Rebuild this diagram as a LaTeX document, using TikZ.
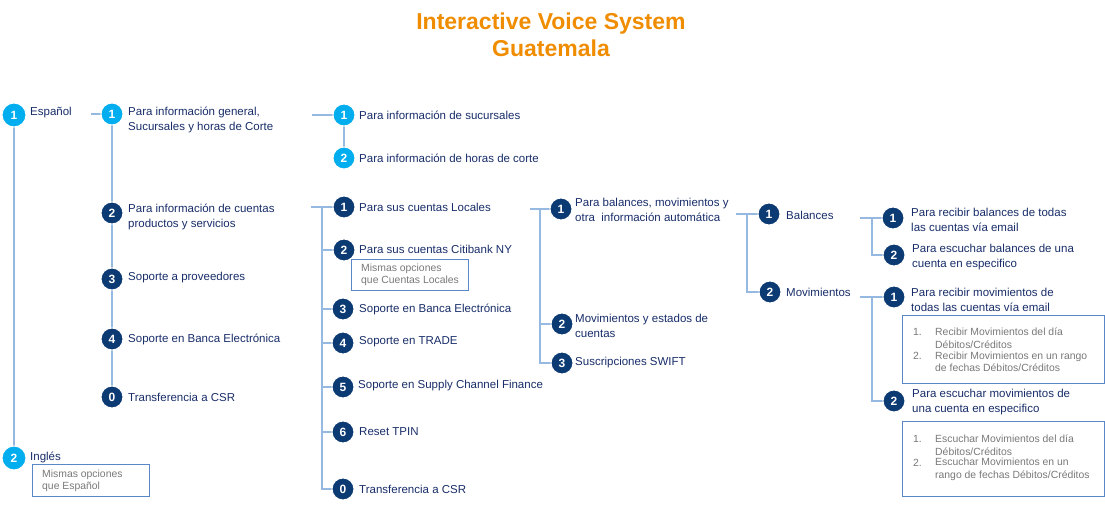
\documentclass[tikz,border=0pt]{standalone}
\usepackage{fontspec}
\setmainfont{Liberation Sans}
\definecolor{navy}{RGB}{12,58,115}
\definecolor{navytext}{RGB}{24,45,105}
\definecolor{cyanc}{RGB}{0,174,239}
\definecolor{linec}{RGB}{150,185,225}
\definecolor{boxc}{RGB}{90,135,200}
\definecolor{graytext}{RGB}{120,120,120}
\definecolor{titlec}{RGB}{240,140,0}
\pgfdeclarelayer{bg}
\pgfsetlayers{bg,main}
\begin{document}
\begin{tikzpicture}[x=1pt,y=-1pt,
  numc/.style={circle,minimum size=22pt,inner sep=0pt,draw=white,line width=1pt,text=white,font=\fontsize{12}{12}\selectfont\bfseries},
  lc/.style={numc,fill=cyanc},
  dc/.style={numc,fill=navy},
  lbl/.style={anchor=west,inner sep=0pt,align=left,text=navytext,font=\fontsize{11.5}{15}\selectfont},
  conn/.style={draw=linec,line width=1.3pt},
  gbox/.style={draw=boxc,line width=0.9pt,anchor=north west,inner sep=0pt},
  gtxt/.style={anchor=west,inner sep=0pt,align=left,text=graytext,font=\fontsize{10.4}{12.5}\selectfont},
]
\useasboundingbox (0,0) rectangle (1105,505);

% title
\node[font=\fontsize{23}{27}\selectfont\bfseries,text=titlec,align=center] (title) at (551,35) {Interactive Voice System\\Guatemala};

% level 0
\node[lc,minimum size=24pt] (a1) at (14,115) {1};
\node[lbl] (ta1) at (30,113) {Español};
\node[lc,minimum size=24pt] (a2) at (14,458) {2};
\node[lbl] (ta2) at (30,457) {Inglés};
\node[gbox,minimum width=117pt,minimum height=32pt] (boxa2) at (32,464) {};
\node[gtxt] (tboxa2) at (42,481) {Mismas opciones\\que Español};
\coordinate (a1o) at (91,114);

% level 1
\node[lc] (b1) at (112,114) {1};
\node[lbl] (tb1) at (128,120) {Para información general,\\Sucursales y horas de Corte};
\node[dc] (b2) at (112,213) {2};
\node[lbl] (tb2) at (128,217) {Para información de cuentas\\productos y servicios};
\node[dc] (b3) at (112,279) {3};
\node[lbl] (tb3) at (128,278) {Soporte a proveedores};
\node[dc] (b4) at (112,339) {4};
\node[lbl] (tb4) at (128,339) {Soporte en Banca Electrónica};
\node[dc] (b0) at (112,397) {0};
\node[lbl] (tb0) at (128,397) {Transferencia a CSR};

% level 2a
\coordinate (c0) at (312,115);
\node[lc] (c1) at (344,115) {1};
\node[lbl] (tc1) at (359,115) {Para información de sucursales};
\node[lc] (c2) at (344,158) {2};
\node[lbl] (tc2) at (359,158) {Para información de horas de corte};

% level 2b
\coordinate (d0) at (311,207);
\coordinate (dv) at (322,207);
\node[dc] (d1) at (344,207) {1};
\node[lbl] (td1) at (359,207) {Para sus cuentas Locales};
\node[dc] (d2) at (344,250) {2};
\node[lbl] (td2) at (359,249) {Para sus cuentas Citibank NY};
\node[gbox,minimum width=117pt,minimum height=31pt] (boxd2) at (351,259) {};
\node[gtxt] (tboxd2) at (361,275) {Mismas opciones\\que Cuentas Locales};
\node[dc] (d3) at (343,309) {3};
\node[lbl] (td3) at (359,309) {Soporte en Banca Electrónica};
\node[dc] (d4) at (343,343) {4};
\node[lbl] (td4) at (359,342) {Soporte en TRADE};
\node[dc] (d5) at (343,387) {5};
\node[lbl] (td5) at (358,386) {Soporte en Supply Channel Finance};
\node[dc] (d6) at (343,432) {6};
\node[lbl] (td6) at (359,432) {Reset TPIN};
\node[dc] (d7) at (343,489) {0};
\node[lbl] (td7) at (359,489) {Transferencia a CSR};

% level 3
\coordinate (e0) at (530,209);
\coordinate (ev) at (540,209);
\node[dc] (e1) at (561,209) {1};
\node[lbl] (te1) at (575,210) {Para balances, movimientos y\\otra\ \ información automática};
\node[dc] (e2) at (562,324) {2};
\node[lbl] (te2) at (575,326) {Movimientos y estados de\\cuentas};
\node[dc] (e3) at (562,363) {3};
\node[lbl] (te3) at (575,363) {Suscripciones SWIFT};

% level 4
\coordinate (f0) at (736,214);
\coordinate (fv) at (747,214);
\node[dc] (f1) at (769,214) {1};
\node[lbl] (tf1) at (786,215) {Balances};
\node[dc] (f2) at (770,292) {2};
\node[lbl] (tf2) at (786,292) {Movimientos};

% level 5 balances
\coordinate (g0) at (860,218);
\coordinate (gv) at (872,218);
\node[dc] (g1) at (893,218) {1};
\node[lbl] (tg1) at (911,220) {Para recibir balances de todas\\las cuentas vía email};
\node[dc] (g2) at (894,255) {2};
\node[lbl] (tg2) at (912,257) {Para escuchar balances de una\\cuenta en especifico};

% level 5 movimientos
\coordinate (h0) at (860,297);
\coordinate (hv) at (872,297);
\node[dc] (h1) at (894,297) {1};
\node[lbl] (th1) at (911,300) {Para recibir movimientos de\\todas las cuentas vía email};
\node[gbox,minimum width=202pt,minimum height=68pt] (boxh1) at (902,315) {};
\node[gtxt] (nh1a) at (913,332) {1.};
\node[gtxt] (th1a) at (935,338) {Recibir Movimientos del día\\Débitos/Créditos};
\node[gtxt] (nh1b) at (913,356) {2.};
\node[gtxt] (th1b) at (935,362) {Recibir Movimientos en un rango\\de fechas Débitos/Créditos};
\node[dc] (h2) at (894,401) {2};
\node[lbl] (th2) at (912,402) {Para escuchar movimientos de\\una cuenta en especifico};
\node[gbox,minimum width=202pt,minimum height=75pt] (boxh2) at (902,421) {};
\node[gtxt] (nh2a) at (913,439) {1.};
\node[gtxt] (th2a) at (935,445) {Escuchar Movimientos del día\\Débitos/Créditos};
\node[gtxt] (nh2b) at (913,463) {2.};
\node[gtxt] (th2b) at (935,469.5) {Escuchar Movimientos en un\\rango de fechas Débitos/Créditos};

% connectors
\begin{pgfonlayer}{bg}
\draw[conn] (a1.center) -- (a2.center);
\draw[conn] (a1o) -- (b1.center);
\draw[conn] (b1.center) -- (b1.center |- b0.center);
\draw[conn] (c0) -- (c1.center);
\draw[conn] (c1.center) -- (c2.center);
\draw[conn] (d0) -- (d1.center);
\draw[conn] (dv) |- (d7.center);
\foreach \n in {d2,d3,d4,d5,d6} \draw[conn] (dv |- \n.center) -- (\n.center);
\draw[conn] (e0) -- (e1.center);
\draw[conn] (ev) |- (e3.center);
\draw[conn] (ev |- e2.center) -- (e2.center);
\draw[conn] (f0) -- (f1.center);
\draw[conn] (fv) |- (f2.center);
\draw[conn] (g0) -- (g1.center);
\draw[conn] (gv) |- (g2.center);
\draw[conn] (h0) -- (h1.center);
\draw[conn] (hv) |- (h2.center);
\end{pgfonlayer}
\end{tikzpicture}
\end{document}
